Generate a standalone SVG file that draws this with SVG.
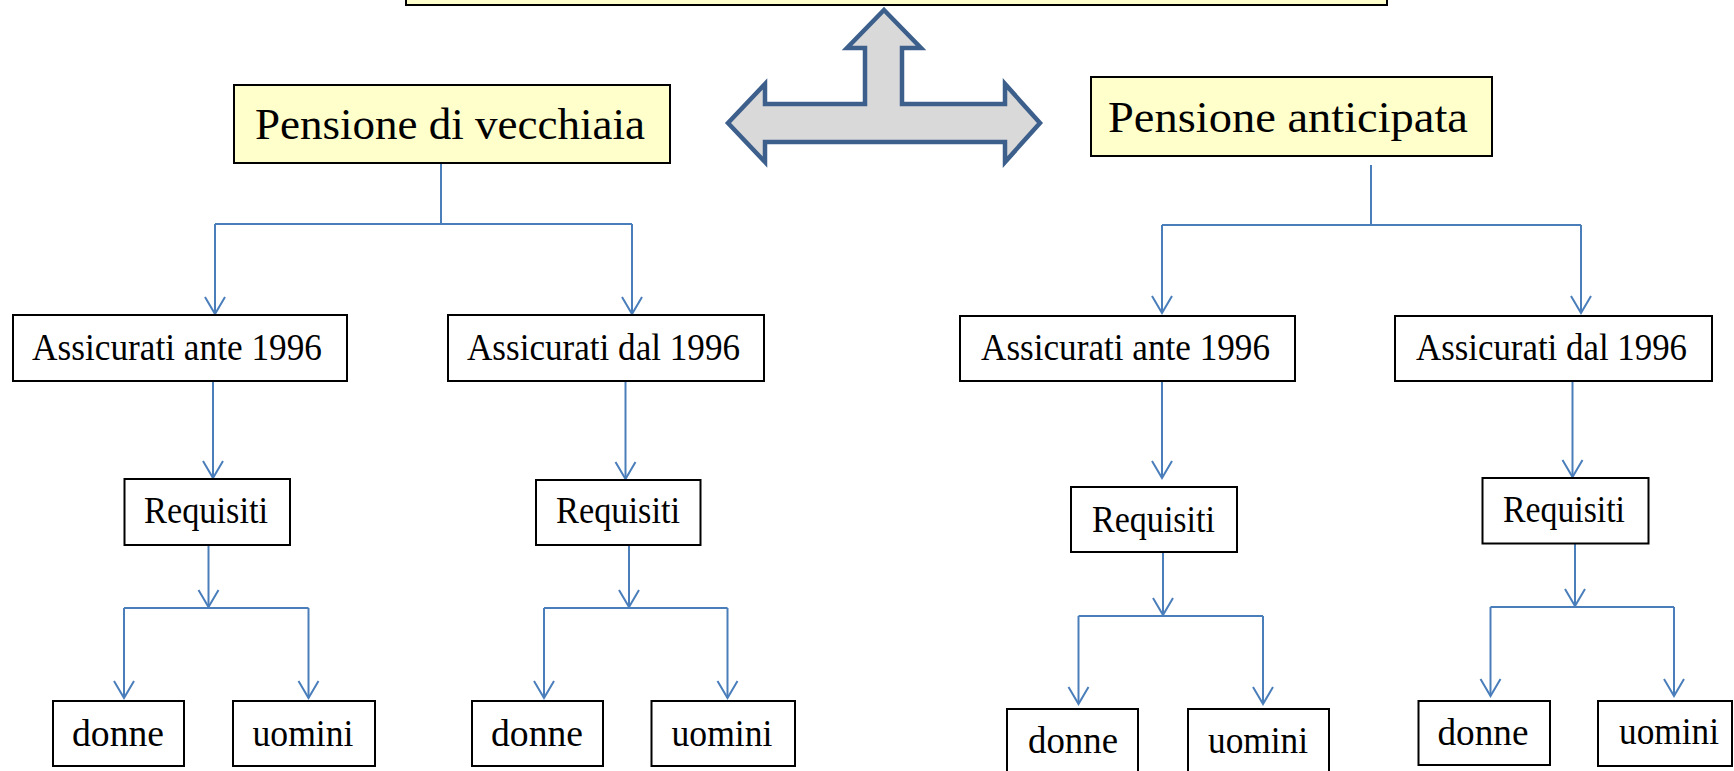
<svg xmlns="http://www.w3.org/2000/svg" width="1734" height="771" viewBox="0 0 1734 771">
  <style>
    .box { fill: #ffffff; stroke: #000000; stroke-width: 2; }
    .head { fill: #ffffcc; stroke: #000000; stroke-width: 2; }
    .lbl { font-family: "Liberation Serif", "DejaVu Serif", serif; font-size: 37px; fill: #000000; text-anchor: middle; }
    .big { font-size: 44px; }
    .conn { fill: none; stroke: #4a7ebb; stroke-width: 2; }
    .arr { marker-end: url(#v); }
  </style>
  <defs>
    <marker id="v" markerWidth="24" markerHeight="24" viewBox="0 0 24 24" refX="20" refY="12" orient="auto" markerUnits="userSpaceOnUse">
      <path d="M3,2 L20,12 L3,22" fill="none" stroke="#4a7ebb" stroke-width="2"/>
    </marker>
  </defs>

  <rect width="1734" height="771" fill="#ffffff"/>

  <!-- header box, cut by the top edge -->
  <g id="top-box">
    <rect class="head" x="406" y="-20" width="981" height="25"/>
  </g>

  <!-- three-way block arrow -->
  <g id="block-arrow">
    <polygon points="884,10 921,48 902,48 902,104 1005,104 1005,84 1040,123 1005,162 1005,142 765,142 765,162 728,123 765,84 765,104 865,104 865,48 847,48"
             fill="#d9d9d9" stroke="#3d5f8c" stroke-width="4.5" stroke-linejoin="miter"/>
  </g>

  <!-- connectors -->
  <g id="connectors">
    <!-- Pensione di vecchiaia -->
    <path class="conn" d="M441,163 V224 M215,224 H632"/>
    <path class="conn arr" d="M215,224 V314"/>
    <path class="conn arr" d="M632,224 V314"/>
    <path class="conn arr" d="M213,381 V478"/>
    <path class="conn arr" d="M625.5,381 V479"/>
    <path class="conn arr" d="M208.5,545 V607"/>
    <path class="conn" d="M124,608 H308.5"/>
    <path class="conn arr" d="M124,608 V698"/>
    <path class="conn arr" d="M308.5,608 V698"/>
    <path class="conn arr" d="M629,545 V607"/>
    <path class="conn" d="M544,608 H727.5"/>
    <path class="conn arr" d="M544,608 V698"/>
    <path class="conn arr" d="M727.5,608 V698"/>

    <!-- Pensione anticipata -->
    <path class="conn" d="M1371,165 V225 M1162,225 H1581"/>
    <path class="conn arr" d="M1162,225 V313"/>
    <path class="conn arr" d="M1581,225 V313"/>
    <path class="conn arr" d="M1162,381 V478"/>
    <path class="conn arr" d="M1572.5,381 V477"/>
    <path class="conn arr" d="M1163,552 V615"/>
    <path class="conn" d="M1078.5,616 H1263"/>
    <path class="conn arr" d="M1078.5,616 V704"/>
    <path class="conn arr" d="M1263,616 V704"/>
    <path class="conn arr" d="M1575,543.5 V606"/>
    <path class="conn" d="M1490.5,607 H1674"/>
    <path class="conn arr" d="M1490.5,607 V696"/>
    <path class="conn arr" d="M1674,607 V696"/>
  </g>

  <!-- level 1 -->
  <g id="vecchiaia">
    <rect class="head" x="234" y="85" width="436" height="78"/>
    <text class="lbl big" x="450" y="139" textLength="390" lengthAdjust="spacingAndGlyphs">Pensione di vecchiaia</text>
  </g>
  <g id="anticipata">
    <rect class="head" x="1091" y="77" width="401" height="79"/>
    <text class="lbl big" x="1288" y="132" textLength="360" lengthAdjust="spacingAndGlyphs">Pensione anticipata</text>
  </g>

  <!-- level 2 -->
  <g id="v-ante">
    <rect class="box" x="13" y="315" width="334" height="66"/>
    <text class="lbl" x="177" y="360" textLength="290" lengthAdjust="spacingAndGlyphs">Assicurati ante 1996</text>
  </g>
  <g id="v-dal">
    <rect class="box" x="448" y="315" width="316" height="66"/>
    <text class="lbl" x="603.5" y="360" textLength="273" lengthAdjust="spacingAndGlyphs">Assicurati dal 1996</text>
  </g>
  <g id="a-ante">
    <rect class="box" x="960" y="316" width="335" height="65"/>
    <text class="lbl" x="1125.5" y="360" textLength="289" lengthAdjust="spacingAndGlyphs">Assicurati ante 1996</text>
  </g>
  <g id="a-dal">
    <rect class="box" x="1395" y="316" width="317" height="65"/>
    <text class="lbl" x="1551.5" y="360" textLength="271" lengthAdjust="spacingAndGlyphs">Assicurati dal 1996</text>
  </g>

  <!-- level 3 -->
  <g id="v-ante-req">
    <rect class="box" x="124.5" y="479" width="165.5" height="66"/>
    <text class="lbl" x="206" y="523" textLength="124" lengthAdjust="spacingAndGlyphs">Requisiti</text>
  </g>
  <g id="v-dal-req">
    <rect class="box" x="536" y="480" width="164.5" height="65"/>
    <text class="lbl" x="618" y="523" textLength="124" lengthAdjust="spacingAndGlyphs">Requisiti</text>
  </g>
  <g id="a-ante-req">
    <rect class="box" x="1071" y="487" width="166" height="65"/>
    <text class="lbl" x="1153.5" y="532" textLength="123" lengthAdjust="spacingAndGlyphs">Requisiti</text>
  </g>
  <g id="a-dal-req">
    <rect class="box" x="1482.5" y="478" width="166" height="65.5"/>
    <text class="lbl" x="1564" y="522" textLength="122" lengthAdjust="spacingAndGlyphs">Requisiti</text>
  </g>

  <!-- level 4 -->
  <g id="v-ante-donne">
    <rect class="box" x="53" y="701" width="131" height="65"/>
    <text class="lbl" x="118" y="746" textLength="92" lengthAdjust="spacingAndGlyphs">donne</text>
  </g>
  <g id="v-ante-uomini">
    <rect class="box" x="233" y="701" width="142" height="65"/>
    <text class="lbl" x="303" y="746" textLength="101" lengthAdjust="spacingAndGlyphs">uomini</text>
  </g>
  <g id="v-dal-donne">
    <rect class="box" x="472" y="701" width="131" height="65"/>
    <text class="lbl" x="537" y="746" textLength="92" lengthAdjust="spacingAndGlyphs">donne</text>
  </g>
  <g id="v-dal-uomini">
    <rect class="box" x="651.5" y="701" width="143.5" height="65"/>
    <text class="lbl" x="722" y="746" textLength="101" lengthAdjust="spacingAndGlyphs">uomini</text>
  </g>
  <g id="a-ante-donne">
    <rect class="box" x="1007" y="709" width="131" height="80"/>
    <text class="lbl" x="1073" y="753" textLength="90" lengthAdjust="spacingAndGlyphs">donne</text>
  </g>
  <g id="a-ante-uomini">
    <rect class="box" x="1188" y="709" width="141" height="80"/>
    <text class="lbl" x="1258" y="753" textLength="100" lengthAdjust="spacingAndGlyphs">uomini</text>
  </g>
  <g id="a-dal-donne">
    <rect class="box" x="1418.5" y="701" width="131.5" height="64"/>
    <text class="lbl" x="1483" y="745" textLength="91" lengthAdjust="spacingAndGlyphs">donne</text>
  </g>
  <g id="a-dal-uomini">
    <rect class="box" x="1598" y="701" width="134" height="65"/>
    <text class="lbl" x="1669" y="744" textLength="100" lengthAdjust="spacingAndGlyphs">uomini</text>
  </g>
</svg>
